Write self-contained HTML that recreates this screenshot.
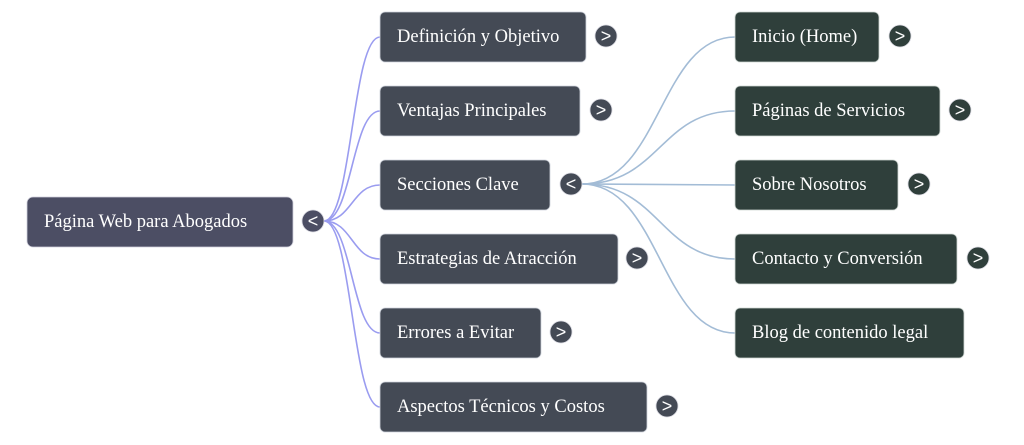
<!DOCTYPE html>
<html><head><meta charset="utf-8"><style>
html,body{margin:0;padding:0;background:#fff;}
svg{display:block;}
text{font-family:"Liberation Serif",serif;font-size:18.5px;fill:#fff;}
.t{font-family:"Liberation Sans",sans-serif;font-size:18px;}
</style></head><body>
<svg width="1024" height="445" viewBox="0 0 1024 445" xmlns="http://www.w3.org/2000/svg">
<g fill="none" stroke="#9a9cf0" stroke-width="1.6">
<path d="M324 221 C352 221 352 37 380 37"/>
<path d="M324 221 C352 221 352 111 380 111"/>
<path d="M324 221 C352 221 352 185 380 185"/>
<path d="M324 221 C352 221 352 259 380 259"/>
<path d="M324 221 C352 221 352 333 380 333"/>
<path d="M324 221 C352 221 352 407 380 407"/>
</g>
<g fill="none" stroke="#a3bcd6" stroke-width="1.6">
<path d="M582 184 C660 184 660 37 735 37"/>
<path d="M582 184 C660 184 660 111 735 111"/>
<path d="M582 184 L735 185"/>
<path d="M582 184 C660 184 660 259 735 259"/>
<path d="M582 184 C660 184 660 333 735 333"/>
</g>
<rect x="27" y="197" width="266" height="50" rx="6" fill="#4c4e64" stroke="#d0d0dc" stroke-width="0.8"/>
<text x="44" y="227">Página Web para Abogados</text>
<g fill="#444a55" stroke="#d0d4dc" stroke-width="0.8">
<rect x="380" y="12" width="206" height="50" rx="5"/>
<rect x="380" y="86" width="200" height="50" rx="5"/>
<rect x="380" y="160" width="170" height="50" rx="5"/>
<rect x="380" y="234" width="238" height="50" rx="5"/>
<rect x="380" y="308" width="161" height="50" rx="5"/>
<rect x="380" y="382" width="267" height="50" rx="5"/>
</g>
<text x="397" y="42">Definición y Objetivo</text>
<text x="397" y="116">Ventajas Principales</text>
<text x="397" y="190">Secciones Clave</text>
<text x="397" y="264">Estrategias de Atracción</text>
<text x="397" y="338">Errores a Evitar</text>
<text x="397" y="412">Aspectos Técnicos y Costos</text>
<g fill="#2f3f3b" stroke="#d0d8d4" stroke-width="0.8">
<rect x="735" y="12" width="144" height="50" rx="5"/>
<rect x="735" y="86" width="205" height="50" rx="5"/>
<rect x="735" y="160" width="163" height="50" rx="5"/>
<rect x="735" y="234" width="222" height="50" rx="5"/>
<rect x="735" y="308" width="229" height="50" rx="5"/>
</g>
<text x="752" y="42">Inicio (Home)</text>
<text x="752" y="116">Páginas de Servicios</text>
<text x="752" y="190">Sobre Nosotros</text>
<text x="752" y="264">Contacto y Conversión</text>
<text x="752" y="338">Blog de contenido legal</text>
<g stroke="#d8d8e0" stroke-width="0.8">
<circle cx="313" cy="221" r="11" fill="#4c4e64"/>
<circle cx="606" cy="36" r="11" fill="#444a55"/>
<circle cx="601" cy="110" r="11" fill="#444a55"/>
<circle cx="571" cy="184" r="11" fill="#444a55"/>
<circle cx="637" cy="258" r="11" fill="#444a55"/>
<circle cx="561" cy="332" r="11" fill="#444a55"/>
<circle cx="667" cy="406" r="11" fill="#444a55"/>
<circle cx="900" cy="36" r="11" fill="#2f3f3b"/>
<circle cx="960" cy="110" r="11" fill="#2f3f3b"/>
<circle cx="919" cy="184" r="11" fill="#2f3f3b"/>
<circle cx="978" cy="258" r="11" fill="#2f3f3b"/>
</g>
<g text-anchor="middle">
<text class="t" x="313" y="227">&lt;</text>
<text class="t" x="606" y="42">&gt;</text>
<text class="t" x="601" y="116">&gt;</text>
<text class="t" x="571" y="190">&lt;</text>
<text class="t" x="637" y="264">&gt;</text>
<text class="t" x="561" y="338">&gt;</text>
<text class="t" x="667" y="412">&gt;</text>
<text class="t" x="900" y="42">&gt;</text>
<text class="t" x="960" y="116">&gt;</text>
<text class="t" x="919" y="190">&gt;</text>
<text class="t" x="978" y="264">&gt;</text>
</g>
</svg>
</body></html>
